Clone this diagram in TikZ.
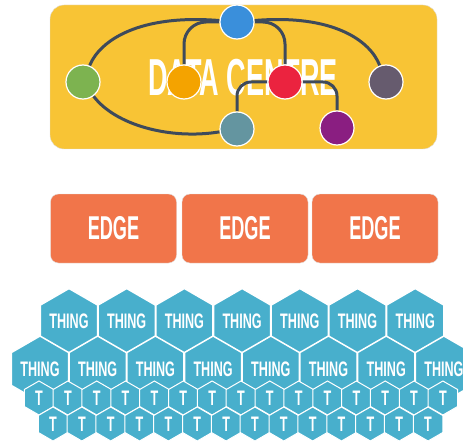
\documentclass[tikz,border=0pt]{standalone}
\usepackage{fontspec}
\setmainfont{Liberation Sans}
\usetikzlibrary{shapes.geometric,backgrounds}

\definecolor{dcyellow}{HTML}{F8C435}
\definecolor{edgeorange}{HTML}{F1754A}
\definecolor{thingblue}{HTML}{48AFCC}
\definecolor{linkslate}{HTML}{3E4A5B}
\definecolor{cblue}{HTML}{3A8FDB}
\definecolor{cgreen}{HTML}{7DB350}
\definecolor{corange}{HTML}{F4A300}
\definecolor{cred}{HTML}{EB233F}
\definecolor{cgrey}{HTML}{665B6E}
\definecolor{cteal}{HTML}{6495A0}
\definecolor{cpurple}{HTML}{8A1E81}

\begin{document}
\begin{tikzpicture}[x=1pt, y=-1pt,
    dot/.style={circle, draw=white, line width=1.2pt, minimum size=34pt, inner sep=0pt},
    link/.style={draw=linkslate, line width=3pt},
    edgebox/.style={fill=edgeorange, draw=black!12, rounded corners=8pt, minimum width=126pt, minimum height=69pt, text=white, font=\fontsize{33}{33}\selectfont\bfseries},
    thing/.style={regular polygon, regular polygon sides=6, shape border rotate=30, minimum size=66pt, inner sep=0pt, fill=thingblue, draw=white, line width=1.5pt, text=white, font=\fontsize{21}{21}\selectfont\bfseries},
    smallthing/.style={thing, minimum size=34pt, line width=1pt}]
    \useasboundingbox (0,0) rectangle (463,441);
    \clip (0,0) rectangle (463,441);

    % Draw data centre nodes
    \node[dot, fill=cblue] (top) at (237,22) {};
    \node[dot, fill=cgreen] (west) at (83,82) {};
    \node[dot, fill=corange] (midl) at (184,82) {};
    \node[dot, fill=cred] (midr) at (285,82) {};
    \node[dot, fill=cgrey] (east) at (386,82) {};
    \node[dot, fill=cteal] (low) at (237,129) {};
    \node[dot, fill=cpurple] (lowr) at (337,128) {};

    \begin{scope}[on background layer]
        % Draw data centre box
        \node[fill=dcyellow, draw=black!12, rounded corners=14pt, minimum width=387pt, minimum height=144pt] (centre) at (243.5,77) {};
        \node[text=white, font=\fontsize{52}{52}\selectfont\bfseries] (title) at (243,78) {\scalebox{0.52}[1]{DATA CENTRE}};

        % Draw links
        \draw[link] (top) .. controls (140,14) and (100,40) .. (west);
        \draw[link] (top) .. controls (332,14) and (370,40) .. (east);
        \draw[link] (west) .. controls (115,125) and (170,140) .. (low);
        \draw[link, rounded corners=22pt] (top) -| (midl);
        \draw[link, rounded corners=22pt] (top) -| (midr);
        \draw[link, rounded corners=14pt] (low) |- (midr);
        \draw[link, rounded corners=14pt] (midr) -| (lowr);
    \end{scope}

    % Draw edge boxes
    \node[edgebox] (edge1) at (113.5,228.5) {\scalebox{0.55}[1]{EDGE}};
    \node[edgebox] (edge2) at (245,228.5) {\scalebox{0.55}[1]{EDGE}};
    \node[edgebox] (edge3) at (375,228.5) {\scalebox{0.55}[1]{EDGE}};

    % Draw things
    \foreach \i in {0,...,6}
        \node[thing] (thingA\i) at (69+57.7*\i, 321.5) {\scalebox{0.6}[1]{THING}};
    \foreach \i in {0,...,7}
        \node[thing] (thingB\i) at (40+57.7*\i, 369) {\scalebox{0.6}[1]{THING}};
    \foreach \i in {0,...,14}
        \node[smallthing] (tC\i) at (39+28.85*\i, 398) {\scalebox{0.6}[1]{T}};
    \foreach \i in {0,...,13}
        \node[smallthing] (tD\i) at (53+28.85*\i, 424) {\scalebox{0.6}[1]{T}};
\end{tikzpicture}
\end{document}
